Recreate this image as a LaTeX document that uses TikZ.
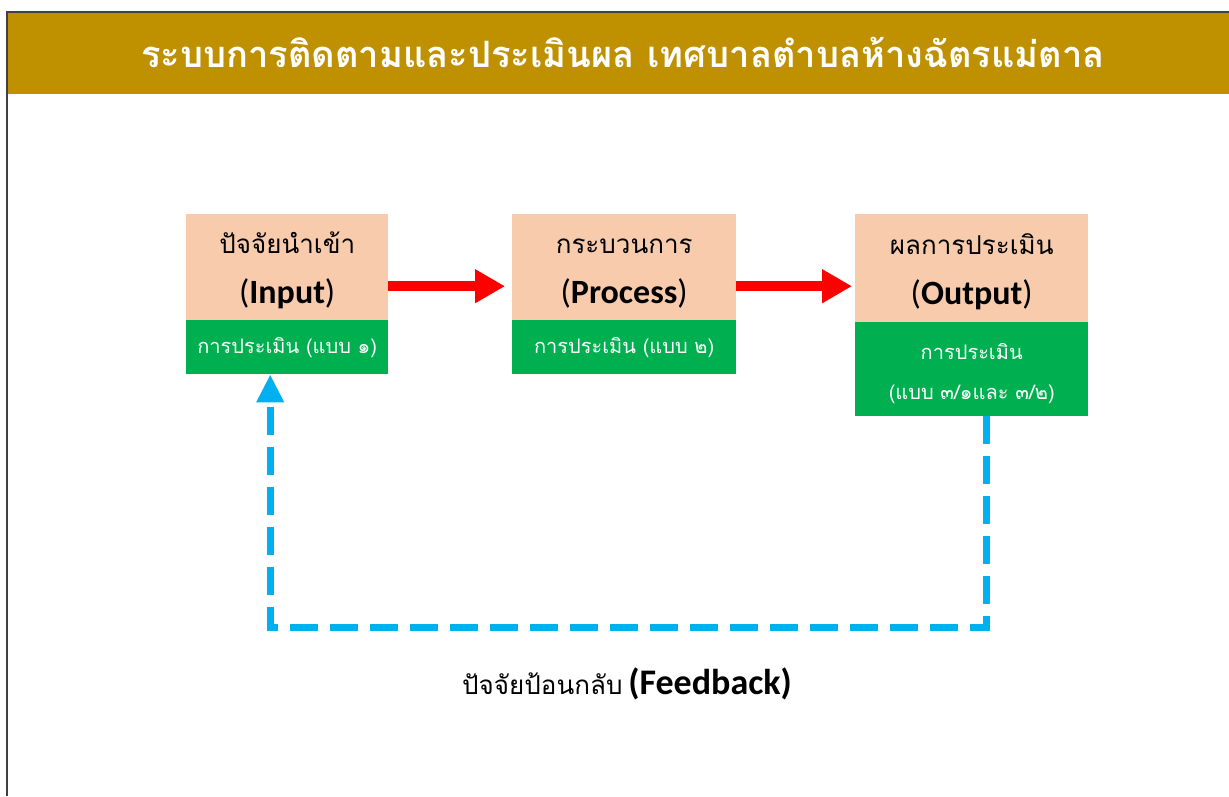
\documentclass[tikz,border=0pt]{standalone}
\usepackage{fontspec}
\setmainfont{Carlito}
\newfontfamily\thai[Script=Thai]{Loma}
\usetikzlibrary{arrows.meta}
\definecolor{gold}{HTML}{BF9000}
\definecolor{peach}{HTML}{F8CBAD}
\definecolor{okgreen}{HTML}{00B050}
\definecolor{fbblue}{HTML}{00B0F0}
\definecolor{edge}{HTML}{404040}
\newcommand{\lat}[1]{{\fontsize{34}{44}\selectfont #1}}
\tikzset{
  topbox/.style={fill=peach, draw=none, anchor=north west, inner sep=0pt, align=center, font=\fontsize{26}{46}\selectfont},
  evalbox/.style={fill=okgreen, draw=none, anchor=north west, inner sep=0pt, align=center, text=white, font=\thai\fontsize{20}{40}\selectfont},
  flow/.style={draw=red, line width=10pt, -{Triangle[width=32pt,length=30pt]}},
  fb/.style={draw=fbblue, line width=7pt, dash pattern=on 28pt off 12pt, -{Triangle[width=26pt,length=28pt]}},
}
\begin{document}
\begin{tikzpicture}[x=1pt,y=-1pt]
\useasboundingbox (0,0) rectangle (1229,796);
\fill[white] (0,0) rectangle (1229,796);
\fill[gold] (8,13) rectangle (1229,94);
\draw[edge, line width=2pt] (7,796) -- (7,12) -- (1229,12);
\node[text=white, font=\thai\bfseries\fontsize{36.3}{40}\selectfont] (title) at (623,52) {ระบบการติดตามและประเมินผล เทศบาลตำบลห้างฉัตรแม่ตาล};

\node[topbox, minimum width=202pt, minimum height=106pt] (in) at (186,214)
  {\rule{0pt}{27pt}{\thai ปัจจัยนำเข้า}\\[4pt]\lat{(\textbf{Input})}};
\node[evalbox, minimum width=202pt, minimum height=54pt] (ing) at (186,320)
  {การประเมิน (แบบ ๑)};

\node[topbox, minimum width=224pt, minimum height=106pt] (pr) at (512,214)
  {\rule{0pt}{27pt}{\thai กระบวนการ}\\[4pt]\lat{(\textbf{Process})}};
\node[evalbox, minimum width=224pt, minimum height=54pt] (prg) at (512,320)
  {การประเมิน (แบบ ๒)};

\node[topbox, minimum width=233pt, minimum height=108pt] (out) at (855,214)
  {\rule{0pt}{27pt}{\thai ผลการประเมิน}\\[4pt]\lat{(\textbf{Output})}};
\node[evalbox, minimum width=233pt, minimum height=94pt] (outg) at (855,322)
  {\rule{0pt}{25pt}การประเมิน\\(แบบ ๓/๑และ ๓/๒)};

\coordinate (a1) at ([yshift=-19pt]in.east);
\coordinate (a2) at ([yshift=-19pt]pr.east);
\draw[flow] (a1) -- ([xshift=-7pt]a1 -| pr.west);
\draw[flow] (a2) -- ([xshift=-3pt]a2 -| out.west);

\draw[fb] ([xshift=15pt]outg.south) -- ++(0,211) -| ([xshift=-17pt]ing.south);

\node[font=\fontsize{26}{30}\selectfont] (fbl) at (627,684) {{\thai ปัจจัยป้อนกลับ} {\fontsize{36}{40}\selectfont\textbf{(Feedback)}}};
\end{tikzpicture}
\end{document}
